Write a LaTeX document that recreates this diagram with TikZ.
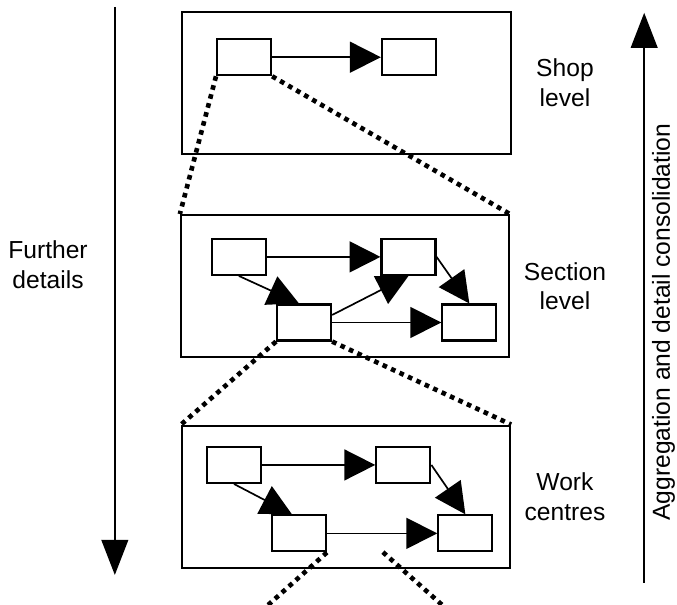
\documentclass[tikz,border=0pt]{standalone}
\usepackage{fontspec}
\setmainfont{Liberation Sans}
\usetikzlibrary{arrows.meta}
\tikzset{>={Triangle[length=22pt,width=22pt]}}
\tikzstyle{none}=[inner sep=0pt]
\tikzstyle{frame}=[draw=black,line width=1.4pt,minimum width=8.2cm,minimum height=3.55cm,inner sep=0pt]
\tikzstyle{box}=[draw=black,fill=white,line width=1.5pt,minimum width=1.35cm,minimum height=0.9cm,inner sep=0pt]
\tikzstyle{caption}=[inner sep=0pt,align=center,font=\fontsize{17.5}{21}\selectfont]
\tikzstyle{flow}=[->,draw=black,line width=1.2pt]
\tikzstyle{drill}=[-,draw=black,line width=3.3pt,dash pattern=on 3.3pt off 3.3pt]
\tikzstyle{trend}=[-{Triangle[length=25pt,width=19pt]},draw=black,line width=1.4pt]
\pgfdeclarelayer{edgelayer}
\pgfdeclarelayer{nodelayer}
\pgfsetlayers{edgelayer,nodelayer,main}

\begin{document}
\begin{tikzpicture}
	\useasboundingbox (-8.46, -7.56) rectangle (8.46, 7.56);
	\begin{pgfonlayer}{nodelayer}
		\node [style=frame] (0) at (0.2, 5.49) {};
		\node [style=frame] (1) at (0.16, 0.41) {};
		\node [style=frame] (2) at (0.19, -4.85) {};
		\node [style=box] (3) at (-2.36, 6.13) {};
		\node [style=box] (4) at (1.76, 6.13) {};
		\node [style=box] (5) at (-2.49, 1.14) {};
		\node [style=box] (6) at (1.75, 1.14) {};
		\node [style=box] (7) at (-0.86, -0.5) {};
		\node [style=box] (8) at (3.27, -0.5) {};
		\node [style=box] (9) at (-2.61, -4.06) {};
		\node [style=box] (10) at (1.62, -4.06) {};
		\node [style=box] (11) at (-0.99, -5.77) {};
		\node [style=box] (12) at (3.17, -5.77) {};
		\node [style=caption] (13) at (5.66, 5.49) {Shop\\level};
		\node [style=caption] (14) at (5.66, 0.41) {Section\\level};
		\node [style=caption] (15) at (5.66, -4.85) {Work\\centres};
		\node [style=caption] (16) at (-7.26, 0.94) {Further\\details};
		\node [style=caption, rotate=90] (17) at (8.12, -0.49) {Aggregation and detail consolidation};
		\node [style=none] (18) at (-5.59, 7.39) {};
		\node [style=none] (19) at (-5.59, -6.81) {};
		\node [style=none] (20) at (7.64, -7.01) {};
		\node [style=none] (21) at (7.64, 7.24) {};
		\node [style=none] (22) at (-1.76, -7.56) {};
		\node [style=none] (23) at (1.11, -6.24) {};
		\node [style=none] (24) at (2.59, -7.56) {};
	\end{pgfonlayer}
	\begin{pgfonlayer}{edgelayer}
		% shop
		\draw [style=flow] (3.east) to (4.west);
		% section
		\draw [style=flow] (5.east) to (6.west);
		\draw [style=flow] (5.south) to (7.105);
		\draw [style=flow] (7.15) to (6.south);
		\draw [style=flow] (6.east) to (8.north);
		\draw [style=flow] (7.east) to (8.west);
		% work centres
		\draw [style=flow] (9.east) to (10.west);
		\draw [style=flow] (9.south) to (11.110);
		\draw [style=flow] (10.east) to (12.north);
		\draw [style=flow] (11.east) to (12.west);

		% zoom-in lines between levels
		\draw [style=drill] (3.south west) to (1.north west);
		\draw [style=drill] (3.south east) to (1.north east);
		\draw [style=drill] (7.south west) to (2.north west);
		\draw [style=drill] (7.south east) to (2.north east);
		\draw [style=drill] (11.south east) to (22.center);
		\draw [style=drill] (23.center) to (24.center);

		\draw [style=trend] (18.center) to (19.center);
		\draw [style=trend] (20.center) to (21.center);
	\end{pgfonlayer}
\end{tikzpicture}
\end{document}
